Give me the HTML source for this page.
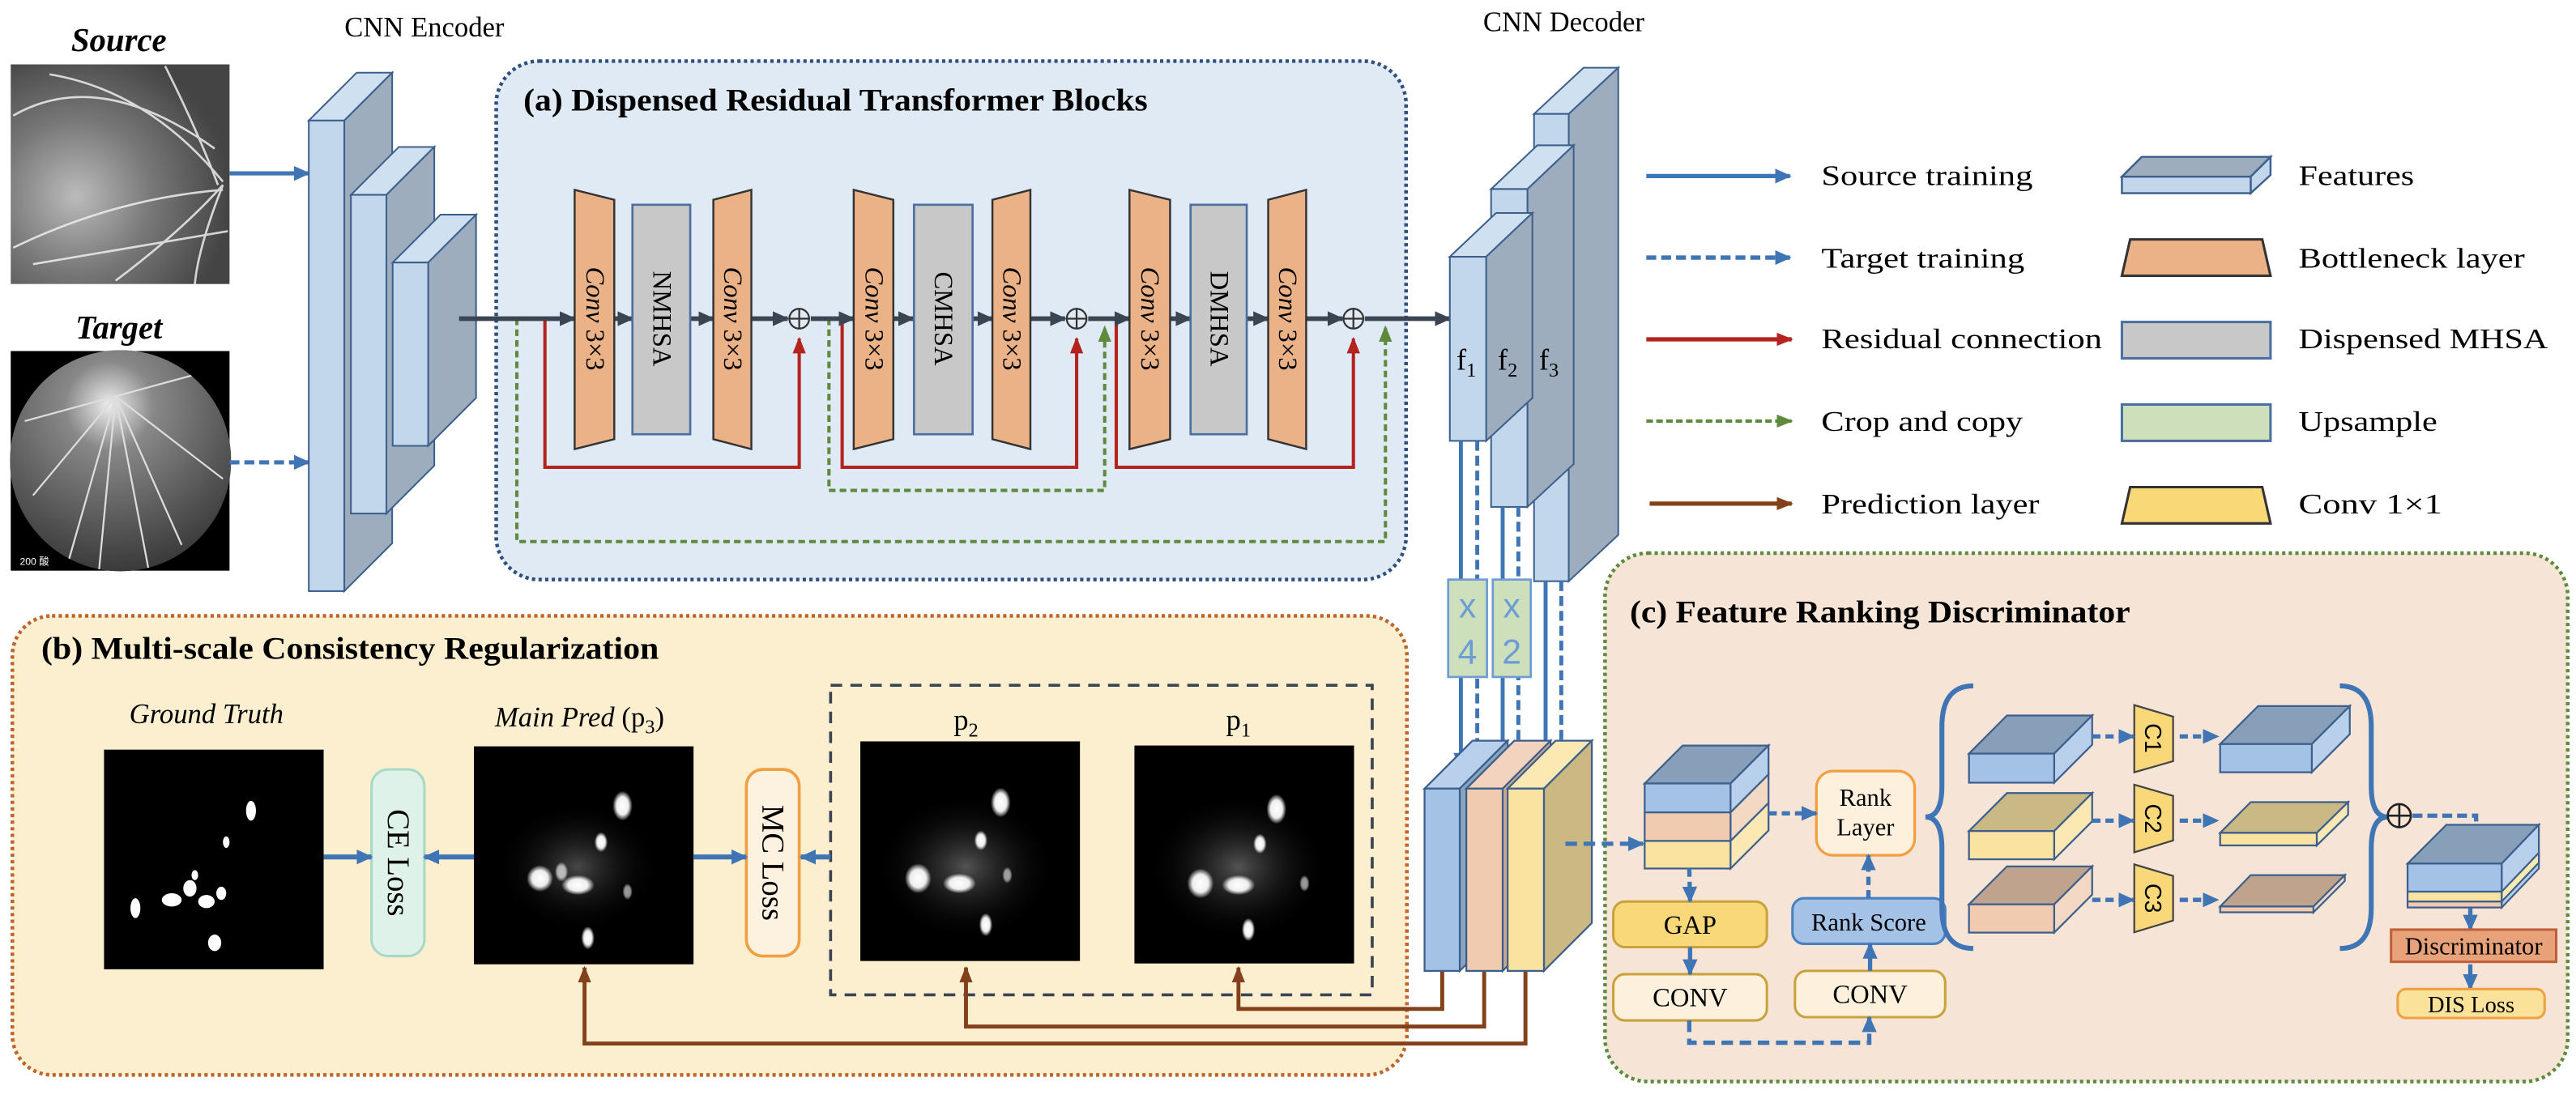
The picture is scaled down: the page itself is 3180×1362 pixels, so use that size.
<!DOCTYPE html>
<html><head><meta charset="utf-8"><style>html,body{margin:0;padding:0;background:#fff}svg{display:block}</style></head><body>
<svg xmlns="http://www.w3.org/2000/svg" width="3180" height="1362" viewBox="0 0 1560 668" preserveAspectRatio="none" font-family="'Liberation Serif', serif">
<defs>
<marker id="mb" markerWidth="10" markerHeight="10" refX="9" refY="5" orient="auto" markerUnits="userSpaceOnUse"><path d="M0,0.5 L10,5 L0,9.5 z" fill="#3f74b5"/></marker>
<marker id="md" markerWidth="10" markerHeight="10" refX="9" refY="5" orient="auto" markerUnits="userSpaceOnUse"><path d="M0,0.5 L10,5 L0,9.5 z" fill="#3a4452"/></marker>
<marker id="mr" markerWidth="10" markerHeight="10" refX="9" refY="5" orient="auto" markerUnits="userSpaceOnUse"><path d="M0,1 L10,5 L0,9 z" fill="#b5231e"/></marker>
<marker id="mg" markerWidth="10" markerHeight="10" refX="9" refY="5" orient="auto" markerUnits="userSpaceOnUse"><path d="M0,1 L10,5 L0,9 z" fill="#5f8a3e"/></marker>
<marker id="mn" markerWidth="10" markerHeight="10" refX="9" refY="5" orient="auto" markerUnits="userSpaceOnUse"><path d="M0,1 L10,5 L0,9 z" fill="#84401a"/></marker>
<radialGradient id="spot"><stop offset="0" stop-color="#fff"/><stop offset="0.6" stop-color="#eee"/><stop offset="1" stop-color="#fff" stop-opacity="0"/></radialGradient>
<radialGradient id="haze"><stop offset="0" stop-color="#777"/><stop offset="1" stop-color="#000" stop-opacity="0"/></radialGradient>
<radialGradient id="srcg" cx="0.3" cy="0.6" r="0.7"><stop offset="0" stop-color="#bbb"/><stop offset="0.5" stop-color="#777"/><stop offset="1" stop-color="#444"/></radialGradient>
<radialGradient id="tgtg" cx="0.45" cy="0.25" r="0.8"><stop offset="0" stop-color="#eee"/><stop offset="0.25" stop-color="#888"/><stop offset="1" stop-color="#333"/></radialGradient>
<clipPath id="tc"><circle cx="73" cy="279" r="67"/></clipPath>
</defs>

<text x="72" y="31" font-size="20" font-weight="bold" font-style="italic" text-anchor="middle">Source</text>
<rect x="6.5" y="39" width="132.5" height="133" fill="url(#srcg)"/>
<g stroke="#eee" fill="none" stroke-width="1.3" opacity="0.85">
<path d="M8,70 Q60,40 130,90"/><path d="M30,45 Q90,55 135,110"/><path d="M8,150 Q70,120 135,115"/><path d="M100,40 Q120,80 132,112"/><path d="M135,112 Q110,140 70,170"/><path d="M135,112 Q120,150 118,172"/><path d="M20,160 Q80,150 138,140"/>
</g>
<text x="72" y="205" font-size="20" font-weight="bold" font-style="italic" text-anchor="middle">Target</text>
<rect x="6.5" y="212.6" width="132.5" height="133" fill="#000"/>
<g clip-path="url(#tc)"><rect x="6" y="212" width="134" height="134" fill="url(#tgtg)"/>
<g stroke="#ddd" fill="none" stroke-width="1.1"><path d="M70,240 L20,300"/><path d="M70,240 L40,345"/><path d="M70,240 L90,345"/><path d="M70,240 L135,290"/><path d="M70,240 L15,255"/><path d="M70,240 L110,330"/><path d="M70,240 L125,225"/><path d="M70,240 L60,345"/></g></g>
<text x="12" y="342" font-size="6" fill="#fff" font-family="'Liberation Sans','Noto Sans CJK SC',sans-serif">200 酸</text>

<line x1="139" y1="105" x2="187" y2="105" stroke="#3f74b5" stroke-width="2.5" marker-end="url(#mb)"/>
<line x1="139" y1="280" x2="187" y2="280" stroke="#3f74b5" stroke-width="2.5" stroke-dasharray="6 3" marker-end="url(#mb)"/>

<text x="257" y="22" font-size="17" text-anchor="middle">CNN Encoder</text>
<g stroke="#3d5f8c" stroke-width="1">
<polygon points="187,73 216,44 237.5,44 208.5,73" fill="#cfe0f0"/><polygon points="208.5,73 237.5,44 237.5,329 208.5,358" fill="#9dadbd"/><rect x="187" y="73" width="21.5" height="285" fill="#c2d7ec"/>
<polygon points="212.5,118 241.5,89 263,89 234,118" fill="#cfe0f0"/><polygon points="234,118 263,89 263,282 234,311" fill="#9dadbd"/><rect x="212.5" y="118" width="21.5" height="193" fill="#c2d7ec"/>
<polygon points="237.8,159 266.8,130 288.3,130 259.3,159" fill="#cfe0f0"/><polygon points="259.3,159 288.3,130 288.3,241 259.3,270" fill="#9dadbd"/><rect x="237.8" y="159" width="21.5" height="111" fill="#c2d7ec"/>
</g>

<rect x="300.5" y="37" width="551" height="314" rx="26" fill="#e0eaf5" stroke="#2f4f7f" stroke-width="2.2" stroke-dasharray="2 2"/>
<text x="317" y="67" font-size="19" font-weight="bold" textLength="378" lengthAdjust="spacingAndGlyphs">(a) Dispensed Residual Transformer Blocks</text>

<g fill="none" stroke-width="2">
<polyline points="330,193 330,283 484,283 484,205" stroke="#b5231e" marker-end="url(#mr)"/>
<polyline points="510,193 510,283 652,283 652,205" stroke="#b5231e" marker-end="url(#mr)"/>
<polyline points="676,193 676,283 819.6,283 819.6,205" stroke="#b5231e" marker-end="url(#mr)"/>
<polyline points="502,193 502,297 669,297 669,198" stroke="#5f8a3e" stroke-dasharray="4 2.5" marker-end="url(#mg)"/>
<polyline points="313,193 313,328 839,328 839,198" stroke="#5f8a3e" stroke-dasharray="4 2.5" marker-end="url(#mg)"/>
</g>

<g stroke="#3a4452" stroke-width="2.8" marker-end="url(#md)">
<line x1="278" y1="193" x2="348" y2="193"/><line x1="372" y1="193" x2="383" y2="193"/><line x1="418" y1="193" x2="432" y2="193"/><line x1="455" y1="193" x2="477" y2="193"/>
<line x1="491" y1="193" x2="517" y2="193"/><line x1="541" y1="193" x2="553" y2="193"/><line x1="589" y1="193" x2="601" y2="193"/><line x1="624" y1="193" x2="645" y2="193"/>
<line x1="659" y1="193" x2="684" y2="193"/><line x1="708.6" y1="193" x2="721" y2="193"/><line x1="755" y1="193" x2="768" y2="193"/><line x1="791" y1="193" x2="813" y2="193"/>
<line x1="826.5" y1="193" x2="878" y2="193"/>
</g>

<g stroke="#333" stroke-width="1.2" fill="#ebb287">
<polygon points="348,115 372,121 372,266 348,272"/><polygon points="432,121 455,115 455,272 432,266"/>
<polygon points="517,115 541,121 541,266 517,272"/><polygon points="601,121 624,115 624,272 601,266"/>
<polygon points="684,115 708.6,121 708.6,266 684,272"/><polygon points="768,121 791,115 791,272 768,266"/>
</g>
<g stroke="#4a6fa0" stroke-width="1.3" fill="#c8c8c8">
<rect x="383" y="124" width="35" height="139"/><rect x="553.5" y="124" width="35.5" height="139"/><rect x="721" y="124" width="34" height="139"/>
</g>
<g font-size="16">
<text transform="translate(360,193) rotate(90)" text-anchor="middle" dominant-baseline="central"><tspan font-style="italic">Conv</tspan> 3×3</text>
<text transform="translate(443.5,193) rotate(90)" text-anchor="middle" dominant-baseline="central"><tspan font-style="italic">Conv</tspan> 3×3</text>
<text transform="translate(529,193) rotate(90)" text-anchor="middle" dominant-baseline="central"><tspan font-style="italic">Conv</tspan> 3×3</text>
<text transform="translate(612.5,193) rotate(90)" text-anchor="middle" dominant-baseline="central"><tspan font-style="italic">Conv</tspan> 3×3</text>
<text transform="translate(696,193) rotate(90)" text-anchor="middle" dominant-baseline="central"><tspan font-style="italic">Conv</tspan> 3×3</text>
<text transform="translate(779.5,193) rotate(90)" text-anchor="middle" dominant-baseline="central"><tspan font-style="italic">Conv</tspan> 3×3</text>
<text transform="translate(400.5,193) rotate(90)" text-anchor="middle" dominant-baseline="central">NMHSA</text>
<text transform="translate(571,193) rotate(90)" text-anchor="middle" dominant-baseline="central">CMHSA</text>
<text transform="translate(738,193) rotate(90)" text-anchor="middle" dominant-baseline="central">DMHSA</text>
</g>
<g fill="none" stroke="#333" stroke-width="1.1">
<circle cx="484" cy="193" r="6"/><path d="M478,193 H490 M484,187 V199"/>
<circle cx="652" cy="193" r="6"/><path d="M646,193 H658 M652,187 V199"/>
<circle cx="819.6" cy="193" r="6"/><path d="M813.6,193 H825.6 M819.6,187 V199"/>
</g>

<text x="947" y="19" font-size="17" text-anchor="middle">CNN Decoder</text>
<g stroke="#3d5f8c" stroke-width="1">
<polygon points="929,69 959,41 980,41 950,69" fill="#cfe0f0"/><polygon points="950,69 980,41 980,324 950,352" fill="#9dadbd"/><rect x="929" y="69" width="21" height="283" fill="#c2d7ec"/>
<polygon points="903,114.5 931,88 953,88 925,114.5" fill="#cfe0f0"/><polygon points="925,114.5 953,88 953,281 925,307" fill="#9dadbd"/><rect x="903" y="114.5" width="22" height="192.5" fill="#c2d7ec"/>
<polygon points="878,155.5 906,129 928,129 900,155.5" fill="#cfe0f0"/><polygon points="900,155.5 928,129 928,241 900,267" fill="#9dadbd"/><rect x="878" y="155.5" width="22" height="111.5" fill="#c2d7ec"/>
</g>
<g font-size="18"><text x="882" y="224">f<tspan font-size="12" dy="4">1</tspan></text><text x="907" y="224">f<tspan font-size="12" dy="4">2</tspan></text><text x="932" y="224">f<tspan font-size="12" dy="4">3</tspan></text></g>

<g stroke-width="2.6">
<line x1="997" y1="106.6" x2="1084" y2="106.6" stroke="#3f74b5" marker-end="url(#mb)"/>
<line x1="997" y1="156" x2="1084" y2="156" stroke="#3f74b5" stroke-dasharray="6 3" marker-end="url(#mb)"/>
<line x1="997" y1="205.5" x2="1085" y2="205.5" stroke="#b5231e" marker-end="url(#mr)"/>
<line x1="997" y1="255" x2="1085" y2="255" stroke="#5f8a3e" stroke-dasharray="4 2" stroke-width="2" marker-end="url(#mg)"/>
<line x1="999" y1="305" x2="1085" y2="305" stroke="#84401a" marker-end="url(#mn)"/>
</g>
<g font-size="17">
<text x="1103" y="112" textLength="128" lengthAdjust="spacingAndGlyphs">Source training</text>
<text x="1103" y="162" textLength="123" lengthAdjust="spacingAndGlyphs">Target training</text>
<text x="1103" y="211" textLength="170" lengthAdjust="spacingAndGlyphs">Residual connection</text>
<text x="1103" y="261" textLength="122" lengthAdjust="spacingAndGlyphs">Crop and copy</text>
<text x="1103" y="311" textLength="132" lengthAdjust="spacingAndGlyphs">Prediction layer</text>
<text x="1392" y="112" textLength="70" lengthAdjust="spacingAndGlyphs">Features</text>
<text x="1392" y="162" textLength="137" lengthAdjust="spacingAndGlyphs">Bottleneck layer</text>
<text x="1392" y="211" textLength="151" lengthAdjust="spacingAndGlyphs">Dispensed MHSA</text>
<text x="1392" y="261" textLength="84" lengthAdjust="spacingAndGlyphs">Upsample</text>
<text x="1392" y="311" textLength="87" lengthAdjust="spacingAndGlyphs">Conv 1×1</text>
</g>
<g stroke="#3d5f8c" stroke-width="1.2">
<polygon points="1285,107 1297,95 1375,95 1363,107" fill="#9dadbd"/><polygon points="1363,107 1375,95 1375,106 1363,117" fill="#c2d7ec"/><rect x="1285" y="107" width="78" height="10" fill="#c2d7ec"/>
</g>
<polygon points="1290,145 1370,145 1375,167 1285,167" fill="#ebb287" stroke="#333" stroke-width="1.5"/>
<rect x="1285" y="195" width="90" height="22" fill="#c8c8c8" stroke="#4a6fa0" stroke-width="1.5"/>
<rect x="1285" y="245" width="90" height="22" fill="#cde0bb" stroke="#4a6fa0" stroke-width="1.5"/>
<polygon points="1290,295 1370,295 1375,317 1285,317" fill="#f9d878" stroke="#333" stroke-width="1.5"/>

<rect x="7.5" y="373" width="844.5" height="278" rx="24" fill="#fcefd0" stroke="#c0642a" stroke-width="2.2" stroke-dasharray="2 2"/>
<text x="25" y="399" font-size="19" font-weight="bold" textLength="374" lengthAdjust="spacingAndGlyphs">(b) Multi-scale Consistency Regularization</text>
<text x="125" y="438" font-size="17" font-style="italic" text-anchor="middle">Ground Truth</text>
<text x="351" y="440" font-size="17" text-anchor="middle"><tspan font-style="italic">Main Pred</tspan> (p<tspan font-size="12" dy="4">3</tspan><tspan dy="-4">)</tspan></text>
<rect x="503" y="415" width="328" height="187.5" fill="none" stroke="#3a4452" stroke-width="1.8" stroke-dasharray="7 5"/>
<text x="585" y="442" font-size="18" text-anchor="middle">p<tspan font-size="12" dy="4">2</tspan></text>
<text x="750" y="442" font-size="18" text-anchor="middle">p<tspan font-size="12" dy="4">1</tspan></text>

<rect x="63" y="454" width="133" height="133" fill="#000"/>
<g fill="#fff"><ellipse cx="152" cy="491" rx="3" ry="6"/><ellipse cx="137" cy="510" rx="2" ry="3.5"/><ellipse cx="115" cy="538" rx="4" ry="5"/><ellipse cx="104" cy="545" rx="6" ry="4"/><ellipse cx="125" cy="546" rx="5" ry="4"/><ellipse cx="134" cy="541" rx="3" ry="4"/><ellipse cx="82" cy="550" rx="3" ry="6"/><ellipse cx="130" cy="571" rx="4" ry="5"/><ellipse cx="118" cy="530" rx="2" ry="3"/></g>
<g>
<rect x="287" y="452" width="133" height="132" fill="#000"/><ellipse cx="350" cy="525" rx="50" ry="40" fill="url(#haze)" opacity="0.6"/>
<ellipse cx="377" cy="488" rx="6" ry="9" fill="url(#spot)"/><ellipse cx="364" cy="510" rx="4" ry="6" fill="url(#spot)"/><ellipse cx="327" cy="532" rx="8" ry="8" fill="url(#spot)"/><ellipse cx="350" cy="536" rx="10" ry="6" fill="url(#spot)"/><ellipse cx="340" cy="528" rx="4" ry="6" fill="url(#spot)" opacity="0.7"/><ellipse cx="356" cy="568" rx="4" ry="7" fill="url(#spot)"/><ellipse cx="380" cy="540" rx="3" ry="5" fill="url(#spot)" opacity="0.6"/>
<rect x="521" y="449" width="133" height="133" fill="#000"/><ellipse cx="585" cy="525" rx="55" ry="45" fill="url(#haze)" opacity="0.7"/>
<ellipse cx="606" cy="486" rx="6" ry="9" fill="url(#spot)"/><ellipse cx="594" cy="509" rx="4" ry="6" fill="url(#spot)"/><ellipse cx="556" cy="532" rx="8" ry="9" fill="url(#spot)"/><ellipse cx="581" cy="535" rx="10" ry="6" fill="url(#spot)"/><ellipse cx="597" cy="560" rx="4" ry="7" fill="url(#spot)"/><ellipse cx="610" cy="530" rx="3" ry="5" fill="url(#spot)" opacity="0.6"/>
<rect x="687" y="451.5" width="133" height="132" fill="#000"/><ellipse cx="750" cy="525" rx="55" ry="45" fill="url(#haze)" opacity="0.7"/>
<ellipse cx="773" cy="490" rx="6" ry="9" fill="url(#spot)"/><ellipse cx="763" cy="511" rx="4" ry="6" fill="url(#spot)"/><ellipse cx="727" cy="535" rx="8" ry="9" fill="url(#spot)"/><ellipse cx="750" cy="536" rx="10" ry="6" fill="url(#spot)"/><ellipse cx="756" cy="563" rx="4" ry="7" fill="url(#spot)"/><ellipse cx="790" cy="535" rx="3" ry="5" fill="url(#spot)" opacity="0.6"/>
</g>
<rect x="225" y="466" width="32" height="113" rx="10" fill="#dff2ea" stroke="#a8d8c6" stroke-width="1.5"/>
<text transform="translate(241,522.5) rotate(90)" font-size="19" text-anchor="middle" dominant-baseline="central">CE Loss</text>
<rect x="452" y="466" width="32" height="113" rx="10" fill="#fdf1e0" stroke="#f0a040" stroke-width="1.8"/>
<text transform="translate(468,522.5) rotate(90)" font-size="19" text-anchor="middle" dominant-baseline="central">MC Loss</text>
<g stroke="#3f74b5" stroke-width="3" marker-end="url(#mb)">
<line x1="196" y1="519" x2="225" y2="519"/><line x1="287" y1="519" x2="257" y2="519"/><line x1="420" y1="519" x2="452" y2="519"/><line x1="503" y1="519" x2="485" y2="519"/>
</g>
<g fill="none" stroke="#84401a" stroke-width="2.4" marker-end="url(#mn)">
<polyline points="873.4,588 873.4,611 750,611 750,586"/>
<polyline points="898.8,588 898.8,621.7 585,621.7 585,586"/>
<polyline points="923.8,588 923.8,632 354,632 354,586"/>
</g>

<g stroke="#3f74b5" stroke-width="2.4">
<line x1="884.7" y1="267" x2="884.7" y2="465" marker-end="url(#mb)"/>
<line x1="894.6" y1="267" x2="894.6" y2="465" stroke-dasharray="6 3" marker-end="url(#mb)"/>
<line x1="910" y1="307" x2="910" y2="465" marker-end="url(#mb)"/>
<line x1="919.5" y1="307" x2="919.5" y2="465" stroke-dasharray="6 3" marker-end="url(#mb)"/>
<line x1="936" y1="352" x2="936" y2="465" marker-end="url(#mb)"/>
<line x1="945.5" y1="352" x2="945.5" y2="465" stroke-dasharray="6 3" marker-end="url(#mb)"/>
</g>
<g stroke="#6c9bd6" stroke-width="1.3" fill="#cde0bb">
<rect x="877" y="351" width="23.5" height="59"/><rect x="904" y="351" width="23" height="59"/>
</g>
<g font-family="'Liberation Sans',sans-serif" font-size="21" fill="#6c9bd6" text-anchor="middle">
<text x="888.7" y="374">x</text><text x="888.7" y="402">4</text><text x="915.5" y="374">x</text><text x="915.5" y="402">2</text>
</g>

<g stroke="#3d5f8c" stroke-width="1.1">
<polygon points="862.7,477.6 891.7,448.6 913,448.6 884,477.6" fill="#b8d0ec"/><polygon points="884,477.6 913,448.6 913,559 884,588" fill="#8aa3bf"/><rect x="862.7" y="477.6" width="21.3" height="110.4" fill="#a4c2e6"/>
<polygon points="888,477.6 917,448.6 939,448.6 910,477.6" fill="#f3d3bd"/><polygon points="910,477.6 939,448.6 939,559 910,588" fill="#c9a890"/><rect x="888" y="477.6" width="22" height="110.4" fill="#f0cbb0"/>
<polygon points="913,477.6 942,448.6 964,448.6 935,477.6" fill="#fbe8b2"/><polygon points="935,477.6 964,448.6 964,559 935,588" fill="#cbb882"/><rect x="913" y="477.6" width="22" height="110.4" fill="#fae3a0"/>
</g>

<rect x="972" y="335" width="583" height="320" rx="26" fill="#f6e4d6" stroke="#5f8a3e" stroke-width="2.2" stroke-dasharray="2 2"/>
<line x1="948" y1="511" x2="995" y2="511" stroke="#3f74b5" stroke-width="2.6" stroke-dasharray="7 4" marker-end="url(#mb)"/>
<text x="987" y="377" font-size="19" font-weight="bold" textLength="303" lengthAdjust="spacingAndGlyphs">(c) Feature Ranking Discriminator</text>

<g stroke="#3d5f8c" stroke-width="1.1">
<polygon points="996,474.5 1019,451.5 1071,451.5 1048,474.5" fill="#889fba"/>
<polygon points="1048,474.5 1071,451.5 1071,469 1048,492" fill="#b8d0ec"/>
<polygon points="1048,492 1071,469 1071,486.3 1048,509.3" fill="#f3d8c4"/>
<polygon points="1048,509.3 1071,486.3 1071,503 1048,526" fill="#fbe8b2"/>
<rect x="996" y="474.5" width="52" height="17.5" fill="#a4c2e6"/><rect x="996" y="492" width="52" height="17.3" fill="#f0cbb0"/><rect x="996" y="509.3" width="52" height="16.7" fill="#fae3a0"/>
</g>
<rect x="977" y="546" width="93" height="27.6" rx="7" fill="#f8d878" stroke="#c9a23c" stroke-width="1.5"/>
<text x="1023.5" y="565.5" font-size="16" text-anchor="middle">GAP</text>
<rect x="977" y="590" width="93" height="28" rx="7" fill="#fdf1de" stroke="#c9a23c" stroke-width="1.5"/>
<text x="1023.5" y="609.5" font-size="16" text-anchor="middle">CONV</text>
<rect x="1100" y="467" width="59.5" height="51" rx="10" fill="#fdf1de" stroke="#f0a040" stroke-width="1.6"/>
<text x="1129.7" y="488" font-size="15" text-anchor="middle">Rank</text><text x="1129.7" y="506" font-size="15" text-anchor="middle">Layer</text>
<rect x="1085.5" y="544" width="92.5" height="27.6" rx="7" fill="#a4c2e6" stroke="#4a7fc0" stroke-width="1.5"/>
<text x="1131.7" y="563.5" font-size="15" text-anchor="middle">Rank Score</text>
<rect x="1087" y="588" width="91" height="28" rx="7" fill="#fdf1de" stroke="#c9a23c" stroke-width="1.5"/>
<text x="1132.5" y="607.5" font-size="16" text-anchor="middle">CONV</text>
<g stroke="#3f74b5" stroke-width="2.6" fill="none">
<line x1="1023" y1="526" x2="1023.5" y2="546" stroke-dasharray="5 3" marker-end="url(#mb)"/>
<line x1="1023.5" y1="573.6" x2="1023.5" y2="590" marker-end="url(#mb)"/>
<line x1="1071" y1="492.6" x2="1100" y2="492.6" stroke-dasharray="5 3" marker-end="url(#mb)"/>
<line x1="1132.5" y1="588" x2="1132.5" y2="571.6" marker-end="url(#mb)"/>
<line x1="1131.5" y1="544" x2="1131.5" y2="518" stroke-dasharray="5 3" marker-end="url(#mb)"/>
<polyline points="1023,618 1023,631.5 1132,631.5 1132,616" stroke-dasharray="7 4" marker-end="url(#mb)"/>
</g>
<g stroke="#3f74b5" stroke-width="3" fill="none">
<path d="M1195,415.4 Q1176,415.4 1176,440 L1176,476 Q1176,494.8 1166,494.8 Q1176,494.8 1176,514 L1176,550 Q1176,574.4 1195,574.4"/>
<path d="M1417,415.4 Q1436,415.4 1436,440 L1436,476 Q1436,494.8 1446,494.8 Q1436,494.8 1436,514 L1436,550 Q1436,574.4 1417,574.4"/>
</g>
<g stroke="#3d5f8c" stroke-width="1.1">
<polygon points="1192.4,456.4 1215.4,433.3 1267,433.3 1244,456.4" fill="#889fba"/><polygon points="1244,456.4 1267,433.3 1267,451 1244,474" fill="#b8d0ec"/><rect x="1192.4" y="456.4" width="51.6" height="17.6" fill="#a4c2e6"/>
<polygon points="1192.4,503.3 1215.4,480.3 1267,480.3 1244,503.3" fill="#cbb985"/><polygon points="1244,503.3 1267,480.3 1267,497.4 1244,520.4" fill="#fbe8b2"/><rect x="1192.4" y="503.3" width="51.6" height="17.1" fill="#fae3a0"/>
<polygon points="1192.4,547.7 1215.4,524.7 1267,524.7 1244,547.7" fill="#bfa38d"/><polygon points="1244,547.7 1267,524.7 1267,541.8 1244,564.8" fill="#f3d8c4"/><rect x="1192.4" y="547.7" width="51.6" height="17.1" fill="#f0cbb0"/>
<polygon points="1344.5,450.6 1367.5,427.6 1423,427.6 1400,450.6" fill="#889fba"/><polygon points="1400,450.6 1423,427.6 1423,444.7 1400,467.7" fill="#b8d0ec"/><rect x="1344.5" y="450.6" width="55.5" height="17.1" fill="#a4c2e6"/>
<polygon points="1344.5,504.4 1363,485.8 1422,485.8 1403,504.4" fill="#cbb985"/><polygon points="1403,504.4 1422,485.8 1422,493.4 1403,512" fill="#fbe8b2"/><rect x="1344.5" y="504.4" width="58.5" height="7.6" fill="#fae3a0"/>
<polygon points="1344.5,549 1363,530 1420,530 1401,549" fill="#bfa38d"/><polygon points="1401,549 1420,530 1420,533.5 1401,552.5" fill="#f3d8c4"/><rect x="1344.5" y="549" width="56.5" height="3.5" fill="#f0cbb0"/>
</g>
<g fill="#f8d878" stroke="#444" stroke-width="1.1">
<polygon points="1292.5,427 1316,434 1316,461 1292.5,467.7"/><polygon points="1292.5,475.2 1316,482 1316,509 1292.5,516.2"/><polygon points="1292.5,523.5 1316,530.5 1316,557.5 1292.5,564.6"/>
</g>
<g font-family="'Liberation Sans',sans-serif" font-size="14">
<text transform="translate(1303.5,447) rotate(90)" text-anchor="middle" dominant-baseline="central">C1</text>
<text transform="translate(1303.5,495.7) rotate(90)" text-anchor="middle" dominant-baseline="central">C2</text>
<text transform="translate(1303.5,544) rotate(90)" text-anchor="middle" dominant-baseline="central">C3</text>
</g>
<g stroke="#3f74b5" stroke-width="2.6" stroke-dasharray="5 3" marker-end="url(#mb)">
<line x1="1267" y1="446" x2="1292" y2="446"/><line x1="1320" y1="446" x2="1343" y2="446"/>
<line x1="1267" y1="497" x2="1292" y2="497"/><line x1="1320" y1="497" x2="1343" y2="497"/>
<line x1="1267" y1="545" x2="1292" y2="545"/><line x1="1320" y1="545" x2="1343" y2="545"/>
</g>
<g fill="none" stroke="#222" stroke-width="1.3"><circle cx="1453" cy="494" r="7"/><path d="M1446,494 H1460 M1453,487 V501"/></g>
<polyline points="1461,494 1499.5,494 1499.5,508" fill="none" stroke="#3f74b5" stroke-width="2.6" stroke-dasharray="6 3" marker-end="url(#mb)"/>
<g stroke="#3d5f8c" stroke-width="1.1">
<polygon points="1458,523 1481.5,499.5 1537.5,499.5 1515,523" fill="#889fba"/>
<polygon points="1515,523 1537.5,499.5 1537.5,526 1515,549.6" fill="#b8d0ec"/>
<polygon points="1515,540 1537.5,516.5 1537.5,522.5 1515,546" fill="#fbe8b2"/>
<rect x="1458" y="523" width="57" height="17" fill="#a4c2e6"/><rect x="1458" y="540" width="57" height="6" fill="#fae3a0"/><rect x="1458" y="546" width="57" height="3.6" fill="#f0cbb0"/>
</g>
<line x1="1496" y1="550" x2="1496" y2="563" stroke="#3f74b5" stroke-width="2.6" marker-end="url(#mb)"/>
<rect x="1448" y="563" width="100" height="19.5" fill="#e8a27a" stroke="#c0603a" stroke-width="1.5"/>
<text x="1498" y="578" font-size="15" text-anchor="middle">Discriminator</text>
<line x1="1496" y1="584" x2="1496" y2="599" stroke="#3f74b5" stroke-width="2.6" marker-end="url(#mb)"/>
<rect x="1452" y="599" width="89" height="17.5" rx="5" fill="#fbe29a" stroke="#f0a040" stroke-width="1.5"/>
<text x="1496.5" y="613" font-size="14" text-anchor="middle">DIS Loss</text>
</svg>
</body></html>
